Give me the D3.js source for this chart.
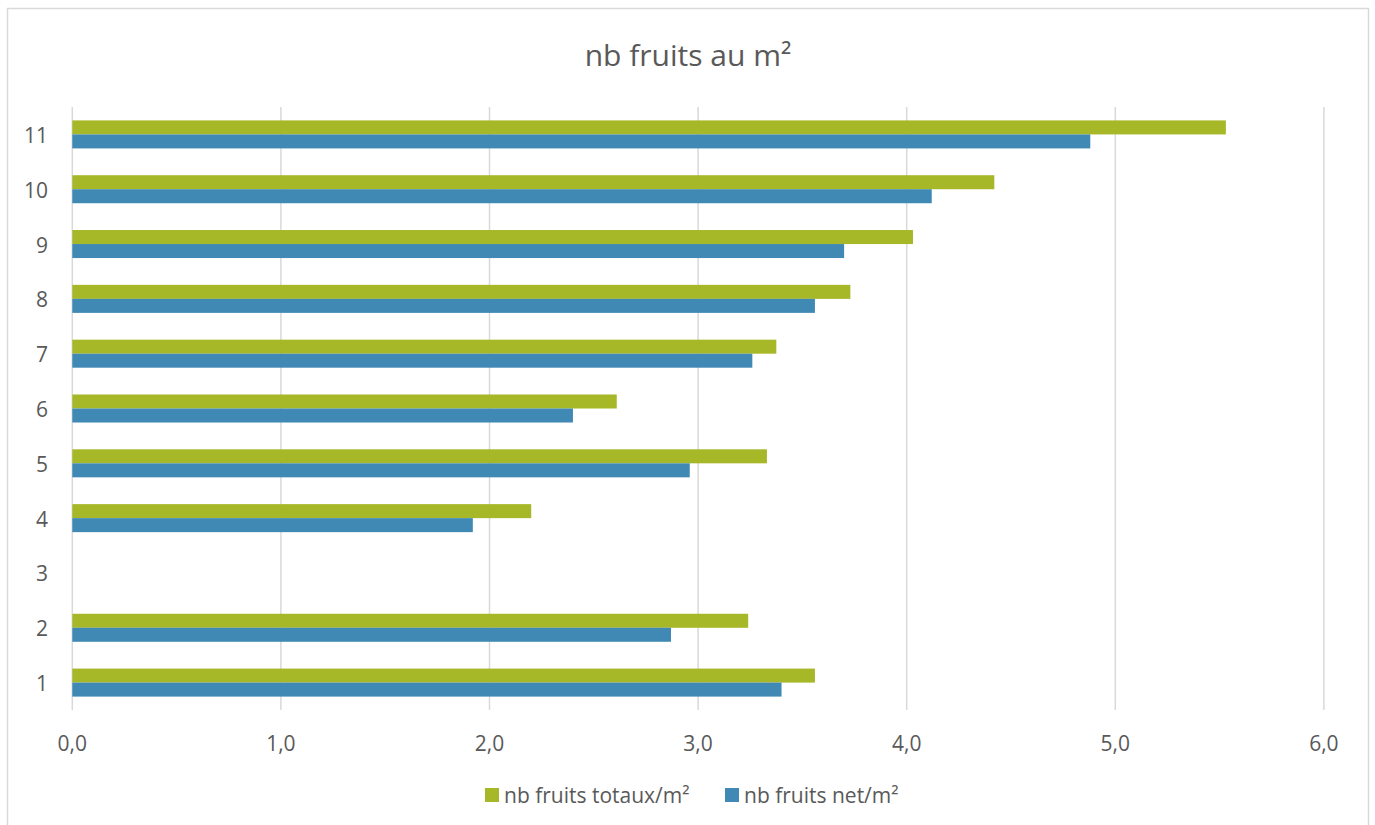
<!DOCTYPE html>
<html>
<head>
  <meta charset="utf-8">
  <title>nb fruits au m²</title>
  <script src="https://d3js.org/d3.v7.min.js"></script>
  <style>
    body { margin: 0; background: #fff; }
    text { font-family: "Open Sans", sans-serif; fill: #595959; }
  </style>
</head>
<body>
<script>

// data
const categories = ["1", "2", "3", "4", "5", "6", "7", "8", "9", "10", "11"];
const totaux = [3.56, 3.24, null, 2.20, 3.33, 2.61, 3.375, 3.73, 4.03, 4.42, 5.53];
const net    = [3.40, 2.87, null, 1.92, 2.96, 2.40, 3.26, 3.56, 3.70, 4.12, 4.88];
const seriesNames = ["nb fruits totaux/m²", "nb fruits net/m²"];
const xTicks = [0, 1, 2, 3, 4, 5, 6];

const colors = ["#A6B727", "#3F89B4"];

const W = 1375, H = 825;
const plot = { left: 72.3, right: 1323.9, top: 107, bottom: 710 };

const svg = d3.select("body").append("svg")
  .attr("width", W)
  .attr("height", H);

// chart frame
svg.append("rect")
  .attr("x", 7.5).attr("y", 8.5)
  .attr("width", 1361).attr("height", 830)
  .attr("fill", "#fff")
  .attr("stroke", "#d9d9d9")
  .attr("stroke-width", 1.5);

// title
svg.append("text")
  .attr("x", 688).attr("y", 66)
  .attr("text-anchor", "middle")
  .style("font-size", "30px")
  .text("nb fruits au m²");

const x = d3.scaleLinear().domain([0, 6]).range([plot.left, plot.right]);

// category 1 at bottom
const y = d3.scaleBand()
  .domain(categories.slice().reverse())
  .range([plot.top, plot.bottom])
  .paddingInner(0.489)
  .paddingOuter(0.489 / 2);

const ySub = d3.scaleBand()
  .domain([0, 1])
  .range([0, y.bandwidth()]);

// vertical gridlines
svg.append("g")
  .selectAll("line")
  .data(xTicks)
  .join("line")
  .attr("x1", d => x(d)).attr("x2", d => x(d))
  .attr("y1", plot.top).attr("y2", plot.bottom)
  .attr("stroke", "#d9d9d9")
  .attr("stroke-width", 1.5);

// x tick labels
svg.append("g")
  .selectAll("text")
  .data(xTicks)
  .join("text")
  .attr("x", d => x(d))
  .attr("y", 751)
  .attr("text-anchor", "middle")
  .style("font-size", "21px")
  .text(d => d.toFixed(1).replace(".", ","));

// category labels
svg.append("g")
  .selectAll("text")
  .data(categories)
  .join("text")
  .attr("x", 48)
  .attr("y", d => y(d) + y.bandwidth() / 2 + 8.5)
  .attr("text-anchor", "end")
  .style("font-size", "21px")
  .text(d => d);

// bars
const rows = categories.map((c, i) => ({ cat: c, vals: [totaux[i], net[i]] }));

const groups = svg.append("g")
  .selectAll("g")
  .data(rows)
  .join("g")
  .attr("transform", d => `translate(0,${y(d.cat)})`);

groups.selectAll("rect")
  .data(d => d.vals.map((v, k) => ({ v, k })).filter(e => e.v != null))
  .join("rect")
  .attr("x", x(0))
  .attr("y", e => ySub(e.k))
  .attr("width", e => x(e.v) - x(0))
  .attr("height", ySub.bandwidth())
  .attr("fill", e => colors[e.k]);

// legend
const legendX = [485, 725];
const legend = svg.append("g")
  .selectAll("g")
  .data(seriesNames)
  .join("g")
  .attr("transform", (d, i) => `translate(${legendX[i]},788)`);

legend.append("rect")
  .attr("width", 14).attr("height", 14)
  .attr("fill", (d, i) => colors[i]);

legend.append("text")
  .attr("x", 19).attr("y", 14.5)
  .style("font-size", "21px")
  .text(d => d);

</script>
</body>
</html>
